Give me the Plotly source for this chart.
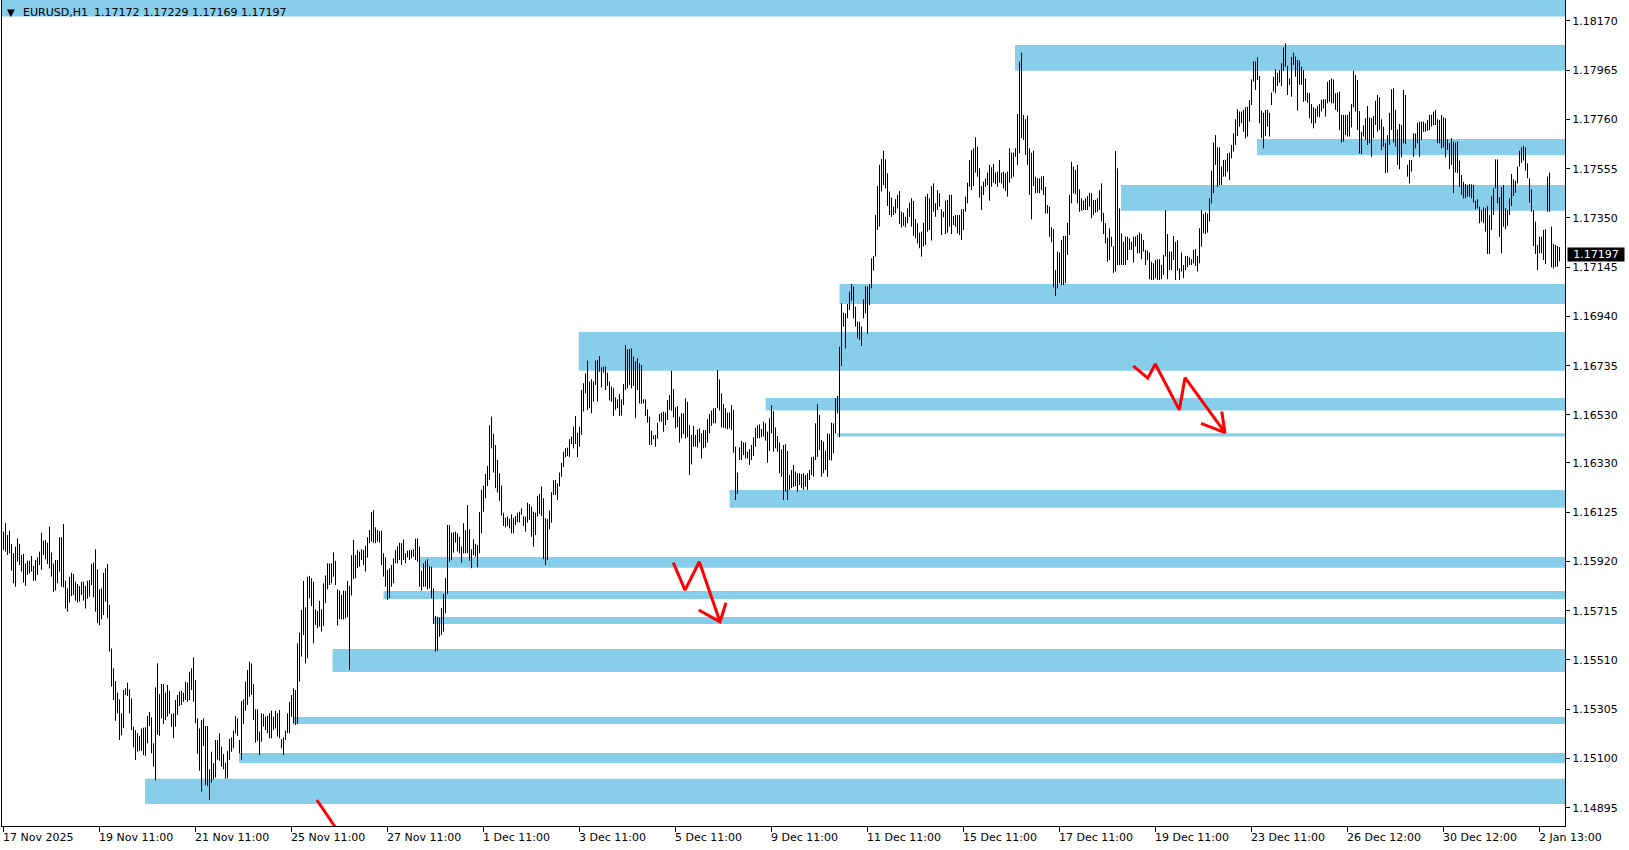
import plotly.graph_objects as go

# ---------------- data ----------------
symbol = "EURUSD,H1"
last_ohlc = [1.17172, 1.17229, 1.17169, 1.17197]

highs = [
1.16044,1.16079,1.16030,1.16048,1.15993,1.15954,1.15982,1.16016,1.15993,1.15947,
1.15951,1.15912,1.15923,1.15923,1.15943,1.15901,1.15926,1.15937,1.15961,1.16040,
1.16007,1.16009,1.15998,1.16065,1.15957,1.15912,1.15926,1.15926,1.16021,1.16021,
1.16076,1.15840,1.15808,1.15857,1.15873,1.15868,1.15836,1.15826,1.15818,1.15836,
1.15836,1.15818,1.15840,1.15843,1.15910,1.15915,1.15971,1.15887,1.15804,1.15808,
1.15873,1.15891,1.15910,1.15739,1.15558,1.15475,1.15422,1.15374,1.15346,1.15288,
1.15385,1.15392,1.15416,1.15388,1.15350,1.15232,1.15218,1.15205,1.15194,1.15225,
1.15228,1.15230,1.15277,1.15293,1.15271,1.15163,1.15396,1.15496,1.15368,1.15410,
1.15410,1.15374,1.15406,1.15382,1.15285,1.15288,1.15343,1.15364,1.15378,1.15382,
1.15374,1.15420,1.15416,1.15461,1.15475,1.15521,1.15427,1.15267,1.15225,1.15260,
1.15267,1.15235,1.15235,1.15055,1.15128,1.15080,1.15177,1.15177,1.15205,1.15149,
1.15119,1.15082,1.15132,1.15182,1.15188,1.15216,1.15277,1.15267,1.15177,1.15338,
1.15346,1.15420,1.15468,1.15503,1.15496,1.15410,1.15305,1.15305,1.15212,1.15288,
1.15285,1.15274,1.15277,1.15288,1.15299,1.15274,1.15299,1.15288,1.15302,1.15180,
1.15188,1.15216,1.15288,1.15336,1.15364,1.15392,1.15385,1.15579,1.15624,1.15718,
1.15839,1.15729,1.15857,1.15860,1.15850,1.15836,1.15721,1.15714,1.15756,1.15721,
1.15829,1.15862,1.15912,1.15912,1.15912,1.15958,1.15923,1.15804,1.15799,1.15781,
1.15799,1.15797,1.15839,1.15819,1.15946,1.16010,1.15947,1.15968,1.15961,1.15971,
1.15968,1.15985,1.16021,1.16051,1.16126,1.16134,1.16062,1.16051,1.16047,1.16048,
1.15954,1.15937,1.15885,1.15892,1.15905,1.15933,1.15968,1.15982,1.15998,1.15996,
1.16012,1.15954,1.15965,1.15968,1.15968,1.15971,1.16015,1.16016,1.15982,1.15882,
1.15912,1.15923,1.15929,1.15901,1.15898,1.15808,1.15693,1.15690,1.15686,1.15726,
1.15785,1.15851,1.16072,1.16072,1.16040,1.16041,1.16044,1.16037,1.16023,1.15982,
1.16079,1.16051,1.16155,1.16054,1.15971,1.16012,1.15993,1.15989,1.16126,1.16218,
1.16236,1.16284,1.16318,1.16487,1.16523,1.16451,1.16405,1.16343,1.16287,1.16236,
1.16123,1.16102,1.16107,1.16098,1.16116,1.16102,1.16109,1.16123,1.16127,1.16141,
1.16109,1.16107,1.16165,1.16159,1.16148,1.16127,1.16123,1.16193,1.16201,1.16232,
1.16183,1.16100,1.16096,1.16132,1.16208,1.16259,1.16259,1.16245,1.16290,1.16331,
1.16377,1.16391,1.16394,1.16429,1.16440,1.16481,1.16526,1.16456,1.16481,1.16634,
1.16662,1.16703,1.16756,1.16669,1.16678,1.16669,1.16756,1.16759,1.16775,1.16728,
1.16731,1.16731,1.16706,1.16669,1.16648,1.16641,1.16603,1.16595,1.16617,1.16595,
1.16658,1.16821,1.16803,1.16805,1.16807,1.16773,1.16753,1.16766,1.16745,1.16738,
1.16595,1.16595,1.16553,1.16523,1.16465,1.16445,1.16447,1.16498,1.16534,1.16540,
1.16544,1.16540,1.16592,1.16613,1.16714,1.16638,1.16562,1.16567,1.16523,1.16537,
1.16537,1.16599,1.16585,1.16488,1.16447,1.16484,1.16447,1.16470,1.16474,1.16454,
1.16467,1.16467,1.16512,1.16534,1.16548,1.16558,1.16559,1.16717,1.16678,1.16620,
1.16576,1.16558,1.16540,1.16540,1.16571,1.16551,1.16398,1.16290,1.16395,1.16422,
1.16416,1.16416,1.16377,1.16388,1.16405,1.16437,1.16477,1.16487,1.16491,1.16472,
1.16502,1.16495,1.16460,1.16516,1.16571,1.16546,1.16478,1.16442,1.16415,1.16387,
1.16405,1.16408,1.16380,1.16280,1.16301,1.16322,1.16294,1.16287,1.16287,1.16284,
1.16287,1.16280,1.16287,1.16301,1.16354,1.16356,1.16495,1.16576,1.16530,1.16426,
1.16419,1.16381,1.16453,1.16451,1.16498,1.16495,1.16599,1.16609,1.16814,1.16995,
1.16956,1.16953,1.16992,1.17043,1.17075,1.17064,1.16981,1.16918,1.16918,1.16898,
1.17011,1.17067,1.17064,1.17075,1.17182,1.17192,1.17362,1.17483,1.17571,1.17596,
1.17630,1.17594,1.17536,1.17460,1.17435,1.17397,1.17428,1.17446,1.17462,1.17376,
1.17372,1.17355,1.17390,1.17414,1.17432,1.17421,1.17346,1.17328,1.17289,1.17293,
1.17330,1.17439,1.17450,1.17432,1.17483,1.17494,1.17411,1.17466,1.17453,1.17386,
1.17376,1.17422,1.17425,1.17446,1.17446,1.17358,1.17362,1.17362,1.17362,1.17386,
1.17387,1.17439,1.17497,1.17591,1.17633,1.17640,1.17686,1.17647,1.17557,1.17483,
1.17501,1.17515,1.17539,1.17571,1.17561,1.17575,1.17539,1.17543,1.17591,1.17539,
1.17543,1.17536,1.17543,1.17640,1.17622,1.17622,1.17640,1.17783,1.18001,1.18038,
1.17779,1.17761,1.17776,1.17640,1.17622,1.17630,1.17522,1.17515,1.17515,1.17522,
1.17525,1.17480,1.17404,1.17397,1.17311,1.17303,1.17133,1.17210,1.17206,1.17258,
1.17275,1.17275,1.17330,1.17446,1.17584,1.17564,1.17550,1.17571,1.17469,1.17432,
1.17422,1.17432,1.17441,1.17455,1.17453,1.17425,1.17425,1.17432,1.17466,1.17494,
1.17372,1.17328,1.17268,1.17307,1.17272,1.17233,1.17629,1.17557,1.17390,1.17286,
1.17251,1.17272,1.17272,1.17265,1.17251,1.17272,1.17272,1.17279,1.17289,1.17283,
1.17258,1.17217,1.17214,1.17206,1.17168,1.17161,1.17175,1.17178,1.17178,1.17154,
1.17196,1.17383,1.17283,1.17210,1.17210,1.17275,1.17251,1.17256,1.17140,1.17206,
1.17154,1.17192,1.17192,1.17186,1.17178,1.17217,1.17221,1.17192,1.17307,1.17383,
1.17367,1.17376,1.17369,1.17432,1.17547,1.17664,1.17695,1.17644,1.17644,1.17564,
1.17591,1.17591,1.17619,1.17622,1.17654,1.17702,1.17761,1.17802,1.17793,1.17793,
1.17800,1.17811,1.17813,1.17841,1.17927,1.18003,1.18001,1.18019,1.17941,1.17797,
1.17788,1.17800,1.17800,1.17788,1.17872,1.17938,1.17969,1.17955,1.17966,1.17994,
1.18060,1.18077,1.17983,1.17931,1.18019,1.18038,1.18022,1.18008,1.18005,1.17980,
1.17966,1.17931,1.17872,1.17869,1.17824,1.17811,1.17806,1.17816,1.17824,1.17841,
1.17844,1.17844,1.17917,1.17924,1.17931,1.17927,1.17869,1.17872,1.17876,1.17779,
1.17779,1.17779,1.17779,1.17793,1.17824,1.17963,1.17945,1.17924,1.17795,1.17709,
1.17736,1.17765,1.17816,1.17769,1.17765,1.17775,1.17838,1.17862,1.17852,1.17761,
1.17730,1.17661,1.17695,1.17788,1.17886,1.17890,1.17800,1.17719,1.17741,1.17737,
1.17883,1.17862,1.17571,1.17591,1.17591,1.17702,1.17702,1.17747,1.17751,1.17751,
1.17751,1.17744,1.17758,1.17779,1.17779,1.17793,1.17800,1.17761,1.17758,1.17779,
1.17769,1.17765,1.17677,1.17661,1.17682,1.17668,1.17664,1.17668,1.17589,1.17529,
1.17501,1.17491,1.17487,1.17491,1.17490,1.17487,1.17422,1.17428,1.17397,1.17383,
1.17394,1.17390,1.17400,1.17362,1.17441,1.17473,1.17594,1.17594,1.17436,1.17480,
1.17487,1.17390,1.17383,1.17432,1.17533,1.17511,1.17505,1.17564,1.17630,1.17644,
1.17650,1.17644,1.17577,1.17515,1.17469,1.17383,1.17335,1.17238,1.17272,1.17272,
1.17300,1.17303,1.17522,1.17539,1.17314,1.17242,1.17238,1.17233,1.17229,
]

lows = [
1.15968,1.15961,1.15947,1.15954,1.15882,1.15829,1.15815,1.15919,1.15905,1.15878,
1.15832,1.15818,1.15864,1.15871,1.15878,1.15840,1.15840,1.15864,1.15905,1.15885,
1.15947,1.15929,1.15910,1.15891,1.15857,1.15794,1.15799,1.15829,1.15878,1.15815,
1.15812,1.15724,1.15711,1.15749,1.15776,1.15780,1.15757,1.15749,1.15753,1.15780,
1.15757,1.15724,1.15765,1.15774,1.15822,1.15771,1.15711,1.15663,1.15654,1.15679,
1.15697,1.15753,1.15683,1.15545,1.15399,1.15343,1.15257,1.15288,1.15177,1.15196,
1.15227,1.15364,1.15360,1.15288,1.15218,1.15146,1.15094,1.15128,1.15132,1.15132,
1.15114,1.15110,1.15163,1.15235,1.15121,1.15066,1.15010,1.15198,1.15194,1.15267,
1.15243,1.15260,1.15274,1.15285,1.15232,1.15184,1.15232,1.15281,1.15318,1.15323,
1.15336,1.15343,1.15336,1.15343,1.15385,1.15336,1.15246,1.15119,1.15049,1.14962,
1.15152,1.14990,1.14985,1.14927,1.14999,1.15013,1.15021,1.15094,1.15091,1.15066,
1.15055,1.15016,1.15017,1.15094,1.15128,1.15142,1.15205,1.15194,1.15121,1.15094,
1.15243,1.15299,1.15323,1.15357,1.15364,1.15260,1.15166,1.15174,1.15114,1.15170,
1.15232,1.15218,1.15205,1.15184,1.15184,1.15218,1.15225,1.15191,1.15184,1.15142,
1.15114,1.15177,1.15205,1.15205,1.15274,1.15246,1.15239,1.15243,1.15420,1.15524,
1.15614,1.15496,1.15517,1.15767,1.15735,1.15579,1.15656,1.15642,1.15649,1.15628,
1.15651,1.15746,1.15804,1.15822,1.15829,1.15857,1.15822,1.15653,1.15679,1.15679,
1.15679,1.15683,1.15688,1.15468,1.15778,1.15846,1.15850,1.15892,1.15898,1.15926,
1.15905,1.15878,1.15936,1.15996,1.16003,1.15998,1.15996,1.16003,1.15998,1.15905,
1.15857,1.15815,1.15760,1.15767,1.15815,1.15829,1.15912,1.15912,1.15926,1.15905,
1.15926,1.15912,1.15937,1.15926,1.15933,1.15940,1.15926,1.15919,1.15815,1.15799,
1.15815,1.15815,1.15804,1.15808,1.15767,1.15660,1.15545,1.15549,1.15607,1.15614,
1.15628,1.15704,1.15785,1.15919,1.15926,1.15957,1.15998,1.15961,1.15954,1.15915,
1.15954,1.15954,1.15954,1.15923,1.15892,1.15946,1.15940,1.15896,1.15954,1.16037,
1.16127,1.16183,1.16234,1.16259,1.16391,1.16290,1.16225,1.16207,1.16173,1.16111,
1.16068,1.16062,1.16068,1.16058,1.16037,1.16037,1.16072,1.16084,1.16083,1.16114,
1.16068,1.16044,1.16082,1.16093,1.16023,1.15982,1.16030,1.16107,1.16118,1.16109,
1.15929,1.15905,1.15926,1.16054,1.16082,1.16197,1.16197,1.16176,1.16232,1.16273,
1.16312,1.16354,1.16359,1.16356,1.16409,1.16391,1.16409,1.16354,1.16398,1.16447,
1.16544,1.16620,1.16551,1.16558,1.16537,1.16585,1.16655,1.16585,1.16710,1.16645,
1.16706,1.16634,1.16651,1.16590,1.16585,1.16526,1.16551,1.16558,1.16526,1.16527,
1.16571,1.16634,1.16641,1.16655,1.16641,1.16651,1.16516,1.16634,1.16578,1.16576,
1.16578,1.16526,1.16498,1.16405,1.16405,1.16429,1.16398,1.16431,1.16502,1.16502,
1.16460,1.16488,1.16509,1.16551,1.16548,1.16520,1.16474,1.16479,1.16415,1.16433,
1.16451,1.16433,1.16437,1.16280,1.16324,1.16398,1.16398,1.16395,1.16415,1.16349,
1.16391,1.16395,1.16415,1.16454,1.16484,1.16495,1.16495,1.16558,1.16548,1.16478,
1.16477,1.16474,1.16470,1.16474,1.16467,1.16373,1.16176,1.16201,1.16342,1.16342,
1.16363,1.16349,1.16349,1.16322,1.16342,1.16359,1.16398,1.16433,1.16433,1.16437,
1.16440,1.16423,1.16331,1.16381,1.16453,1.16377,1.16391,1.16377,1.16287,1.16273,
1.16176,1.16211,1.16176,1.16218,1.16225,1.16231,1.16234,1.16211,1.16238,1.16225,
1.16218,1.16231,1.16218,1.16259,1.16280,1.16273,1.16342,1.16356,1.16384,1.16273,
1.16287,1.16301,1.16273,1.16342,1.16340,1.16370,1.16453,1.16537,1.16437,1.16734,
1.16898,1.16807,1.16932,1.16967,1.17006,1.16932,1.16898,1.16849,1.16842,1.16817,
1.16932,1.16953,1.16867,1.16988,1.17057,1.17131,1.17189,1.17300,1.17314,1.17460,
1.17487,1.17473,1.17400,1.17362,1.17355,1.17362,1.17369,1.17390,1.17325,1.17310,
1.17317,1.17311,1.17328,1.17355,1.17314,1.17275,1.17265,1.17244,1.17224,1.17189,
1.17231,1.17238,1.17293,1.17300,1.17256,1.17376,1.17355,1.17383,1.17397,1.17279,
1.17353,1.17283,1.17289,1.17314,1.17283,1.17321,1.17314,1.17286,1.17279,1.17258,
1.17300,1.17376,1.17411,1.17480,1.17466,1.17483,1.17539,1.17522,1.17435,1.17383,
1.17446,1.17480,1.17487,1.17422,1.17480,1.17497,1.17491,1.17480,1.17497,1.17494,
1.17473,1.17462,1.17439,1.17497,1.17515,1.17522,1.17605,1.17571,1.17619,1.17682,
1.17675,1.17612,1.17571,1.17446,1.17344,1.17483,1.17453,1.17455,1.17453,1.17466,
1.17446,1.17369,1.17369,1.17272,1.17249,1.17061,1.17025,1.17057,1.17078,1.17071,
1.17071,1.17078,1.17196,1.17279,1.17411,1.17453,1.17448,1.17411,1.17376,1.17380,
1.17383,1.17383,1.17383,1.17397,1.17349,1.17362,1.17372,1.17376,1.17383,1.17335,
1.17283,1.17244,1.17168,1.17175,1.17231,1.17122,1.17127,1.17154,1.17154,1.17154,
1.17154,1.17154,1.17175,1.17217,1.17217,1.17164,1.17231,1.17203,1.17203,1.17178,
1.17210,1.17154,1.17175,1.17095,1.17092,1.17092,1.17099,1.17092,1.17092,1.17095,
1.17113,1.17189,1.17095,1.17133,1.17133,1.17175,1.17092,1.17131,1.17092,1.17127,
1.17099,1.17133,1.17145,1.17154,1.17154,1.17161,1.17150,1.17127,1.17161,1.17231,
1.17286,1.17283,1.17289,1.17335,1.17411,1.17453,1.17571,1.17480,1.17487,1.17487,
1.17522,1.17522,1.17543,1.17508,1.17598,1.17626,1.17654,1.17691,1.17730,1.17744,
1.17709,1.17682,1.17689,1.17751,1.17820,1.17917,1.17883,1.17924,1.17744,1.17682,
1.17640,1.17691,1.17730,1.17689,1.17820,1.17876,1.17869,1.17899,1.17913,1.17899,
1.17963,1.17980,1.17862,1.17904,1.17855,1.17987,1.17938,1.17797,1.17904,1.17904,
1.17834,1.17838,1.17830,1.17765,1.17744,1.17723,1.17744,1.17772,1.17769,1.17793,
1.17806,1.17772,1.17827,1.17834,1.17827,1.17827,1.17800,1.17793,1.17716,1.17664,
1.17668,1.17695,1.17689,1.17689,1.17727,1.17811,1.17793,1.17716,1.17619,1.17616,
1.17689,1.17675,1.17654,1.17661,1.17605,1.17682,1.17737,1.17709,1.17716,1.17633,
1.17647,1.17536,1.17539,1.17654,1.17716,1.17664,1.17647,1.17571,1.17553,1.17602,
1.17661,1.17658,1.17522,1.17494,1.17543,1.17605,1.17640,1.17661,1.17605,1.17675,
1.17709,1.17709,1.17713,1.17716,1.17730,1.17737,1.17737,1.17661,1.17661,1.17640,
1.17644,1.17602,1.17633,1.17553,1.17571,1.17453,1.17539,1.17536,1.17480,1.17446,
1.17432,1.17432,1.17439,1.17439,1.17432,1.17414,1.17386,1.17390,1.17328,1.17335,
1.17328,1.17293,1.17200,1.17200,1.17300,1.17362,1.17473,1.17411,1.17272,1.17203,
1.17314,1.17303,1.17317,1.17362,1.17400,1.17441,1.17455,1.17494,1.17564,1.17580,
1.17589,1.17547,1.17515,1.17414,1.17376,1.17233,1.17200,1.17133,1.17203,1.17203,
1.17175,1.17158,1.17376,1.17376,1.17145,1.17140,1.17147,1.17147,1.17169,
]

time_labels = ["17 Nov 2025", "19 Nov 11:00", "21 Nov 11:00", "25 Nov 11:00",
               "27 Nov 11:00", "1 Dec 11:00", "3 Dec 11:00", "5 Dec 11:00",
               "9 Dec 11:00", "11 Dec 11:00", "15 Dec 11:00", "17 Dec 11:00",
               "19 Dec 11:00", "23 Dec 11:00", "26 Dec 12:00", "30 Dec 12:00",
               "2 Jan 13:00"]
bars_per_label = 48

price_ticks = [1.18170, 1.17965, 1.17760, 1.17555, 1.17350, 1.17145, 1.16940,
               1.16735, 1.16530, 1.16330, 1.16125, 1.15920, 1.15715, 1.15510,
               1.15305, 1.15100, 1.14895]

# zones: start bar, low price, high price
zone_start = [-5, 505.75, 626.75, 558.75, 418.0, 287.6, 381.1, 416.75, 363.0,
              207.9, 190.0, 214.75, 164.5, 144.75, 117.75, 70.75]
zone_low = [1.18189, 1.17963, 1.17612, 1.17380, 1.16992, 1.16714, 1.16548, 1.16440,
            1.16144, 1.15894, 1.15764, 1.15660, 1.15460, 1.15243, 1.15081, 1.14910]
zone_high = [1.18300, 1.18070, 1.17679, 1.17487, 1.17075, 1.16875, 1.16601, 1.16454,
             1.16218, 1.15939, 1.15797, 1.15689, 1.15556, 1.15273, 1.15123, 1.15015]

# hand-drawn red arrows (bar index, price)
arrow1_bar = [334.9, 340.75, 347.9, 358.25, None, 347.6, 358.25, 361.25]
arrow1_px = [1.15915, 1.15801, 1.15919, 1.15669, None, 1.15718, 1.15669, 1.15748]
arrow2_bar = [564.9, 572.1, 575.9, 587.9, 590.75, 610.75, None, 598.75, 610.75, 609.1]
arrow2_px = [1.16734, 1.16683, 1.16742, 1.16551, 1.16685, 1.16456, None, 1.16495, 1.16456, 1.16544]
arrow3_bar = [156.7, 173.6]
arrow3_px = [1.14927, 1.14719]

# ---------------- figure ----------------
FONT = "DejaVu Sans"
ZONE = "#87CEEB"
X_RANGE = [-0.75, 780.75]
Y_RANGE = [1.148188, 1.182574]

fig = go.Figure()

shapes = []
for x0, lo, hi in zip(zone_start, zone_low, zone_high):
    shapes.append(dict(type="rect", xref="x", yref="y", x0=x0, x1=X_RANGE[1],
                       y0=lo, y1=min(hi, Y_RANGE[1]), fillcolor=ZONE,
                       line=dict(width=0), layer="below"))

bx, by = [], []
for i, (h, l) in enumerate(zip(highs, lows)):
    bx += [i, i, None]
    by += [l, h, None]
fig.add_trace(go.Scatter(x=bx, y=by, mode="lines",
                         line=dict(color="#000000", width=1),
                         hoverinfo="skip", showlegend=False))

for ax_, ay_ in [(arrow1_bar, arrow1_px), (arrow2_bar, arrow2_px), (arrow3_bar, arrow3_px)]:
    fig.add_trace(go.Scatter(x=ax_, y=ay_, mode="lines",
                             line=dict(color="#FF0000", width=3),
                             hoverinfo="skip", showlegend=False))

tick_idx = [k * bars_per_label for k in range(len(time_labels))]

annotations = []
for idx, lab in zip(tick_idx, time_labels):
    annotations.append(dict(x=idx, xref="x", y=0, yref="paper", text=lab,
                            showarrow=False, xanchor="left", yanchor="middle",
                            xshift=-2.5, yshift=-11,
                            font=dict(family=FONT, size=11, color="#000000")))

# title
annotations.append(dict(x=0, xref="paper", y=1, yref="paper", text="▼",
                        showarrow=False, xanchor="left", yanchor="middle",
                        xshift=3, yshift=-12,
                        font=dict(family=FONT, size=10, color="#000000")))
annotations.append(dict(x=0, xref="paper", y=1, yref="paper", text=symbol,
                        showarrow=False, xanchor="left", yanchor="middle",
                        xshift=18.7, yshift=-12,
                        font=dict(family=FONT, size=11, color="#000000")))
annotations.append(dict(x=0, xref="paper", y=1, yref="paper",
                        text=" ".join(f"{v:.5f}" for v in last_ohlc),
                        showarrow=False, xanchor="left", yanchor="middle",
                        xshift=90.3, yshift=-12,
                        font=dict(family=FONT, size=11, color="#000000")))

# current price label
annotations.append(dict(x=1, xref="paper", y=last_ohlc[3], yref="y",
                        text=f"{last_ohlc[3]:.5f}", showarrow=False,
                        xanchor="left", yanchor="middle", xshift=1.5,
                        bgcolor="#000000", borderpad=0, width=56, height=13,
                        font=dict(family=FONT, size=11, color="#FFFFFF")))

fig.update_layout(
    width=1629, height=850,
    margin=dict(l=2, r=64, t=0, b=24),
    paper_bgcolor="#FFFFFF", plot_bgcolor="#FFFFFF",
    shapes=shapes, annotations=annotations,
    showlegend=False,
    xaxis=dict(range=X_RANGE, showgrid=False, zeroline=False,
               showline=True, linecolor="#000000", linewidth=1,
               ticks="outside", ticklen=5, tickcolor="#000000",
               tickvals=tick_idx, showticklabels=False, automargin=False),
    yaxis=dict(range=Y_RANGE, side="right", showgrid=False, zeroline=False,
               showline=True, linecolor="#000000", linewidth=1, mirror=True,
               ticks="outside", ticklen=4, tickcolor="#000000",
               tickvals=price_ticks, ticktext=[f"{v:.5f}" for v in price_ticks],
               tickfont=dict(family=FONT, size=11, color="#000000"),
               automargin=False),
)

fig.write_html("out.html", config={"displayModeBar": False},
               post_script="document.body.style.margin='0';document.body.style.overflow='hidden';")
